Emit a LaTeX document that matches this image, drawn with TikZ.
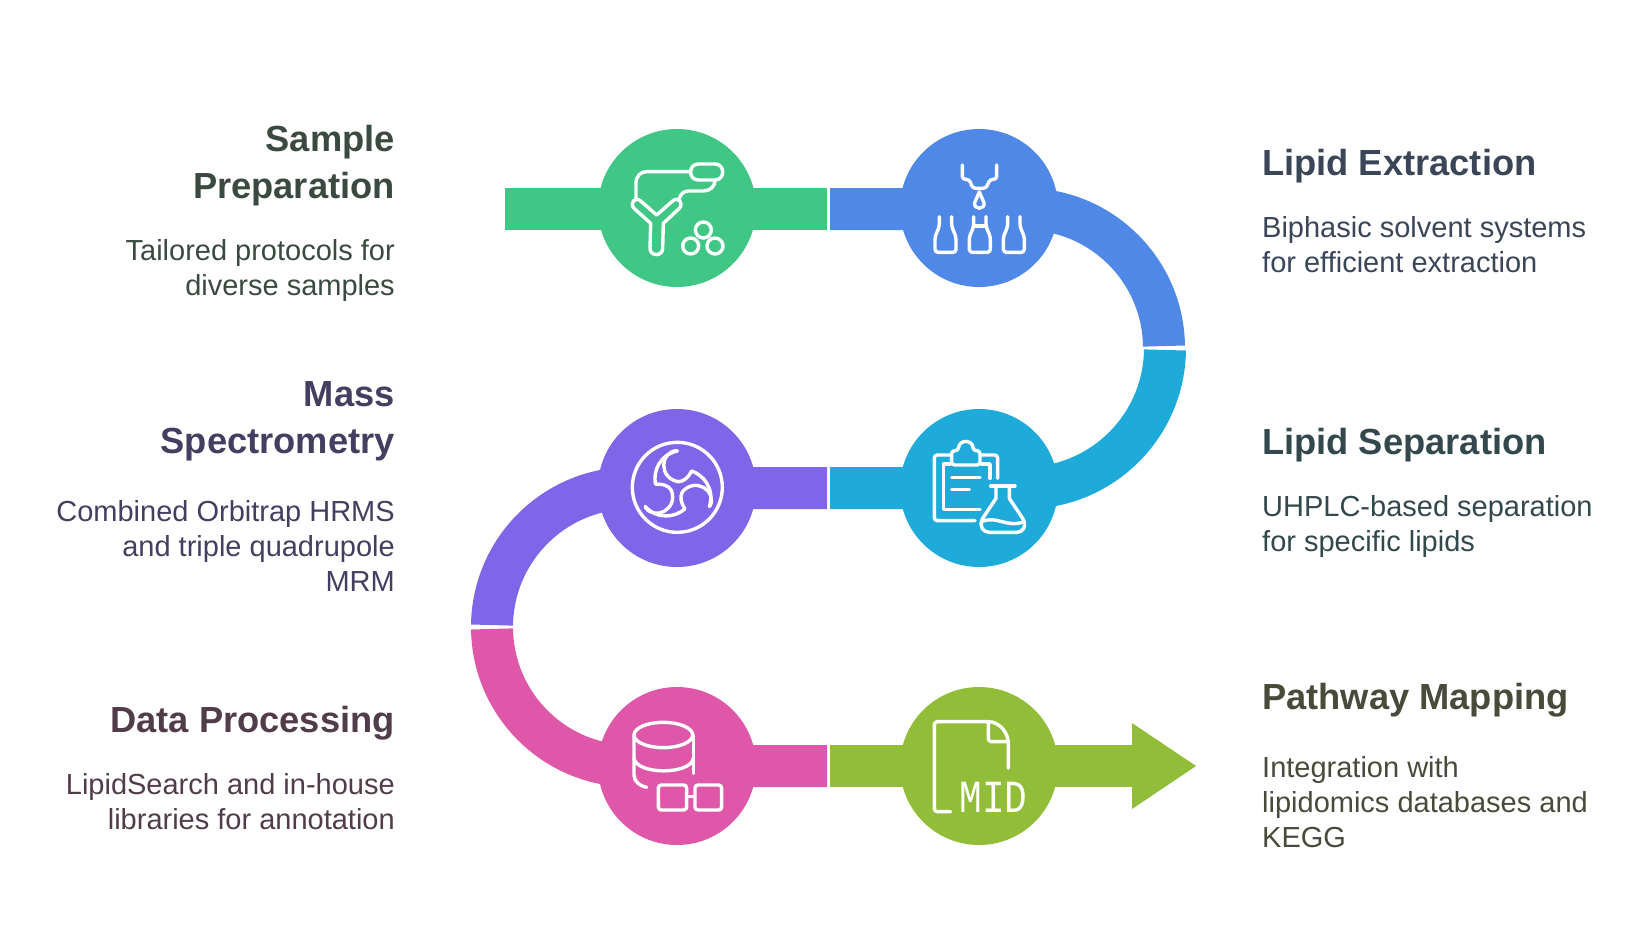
\documentclass[tikz,border=0pt]{standalone}
\usepackage{fontspec}
\setmainfont{Liberation Sans}
\newfontfamily\iconmono{Liberation Mono}
\usetikzlibrary{positioning}
\definecolor{prepgreen}{HTML}{40C785}
\definecolor{extblue}{HTML}{4F88E6}
\definecolor{sepcyan}{HTML}{1EABDA}
\definecolor{masspurple}{HTML}{7F65E8}
\definecolor{datapink}{HTML}{DF57A9}
\definecolor{pathgreen}{HTML}{92BD39}
\definecolor{preptext}{HTML}{3A4A40}
\definecolor{exttext}{HTML}{3A4658}
\definecolor{septext}{HTML}{33484D}
\definecolor{masstext}{HTML}{443E60}
\definecolor{datatext}{HTML}{513C4A}
\definecolor{pathtext}{HTML}{474B39}
\tikzset{
	stepnode/.style = {circle, minimum size=158pt, inner sep=0pt},
	ribbon/.style = {line width=42pt, line cap=butt},
	icon/.style = {draw=white, line width=3.4pt, line cap=round, line join=round},
	title/.style = {inner sep=0pt, font=\fontsize{36.3}{46.5}\selectfont\bfseries},
	titleright/.style = {title, anchor=base west, align=left},
	titleleft/.style = {title, anchor=base east, align=right},
	desc/.style = {inner sep=0pt, font=\fontsize{29}{35}\selectfont},
	descright/.style = {desc, anchor=base west, align=left},
	descleft/.style = {desc, anchor=base east, align=right}
}
\begin{document}
\begin{tikzpicture}[x=1pt, y=-1pt]
	\useasboundingbox (0,0) rectangle (1649,929);

	% Define the step circles
	\node (prep) [stepnode, fill=prepgreen] at (677,208) {};
	\node (ext) [stepnode, fill=extblue] at (979,208) {};
	\node (sep) [stepnode, fill=sepcyan] at (979,488) {};
	\node (mass) [stepnode, fill=masspurple] at (677,488) {};
	\node (data) [stepnode, fill=datapink] at (677,766) {};
	\node (path) [stepnode, fill=pathgreen] at (979,766) {};

	% Define the ribbon's free ends
	\coordinate (prepstart) at (505,209);
	\coordinate (prepend) at (827,209);
	\coordinate (extstart) at (830,209);
	\coordinate (sepstart) at (830,488);
	\coordinate (massstart) at (827,488);
	\coordinate (datastart) at (827,766);
	\coordinate (pathstart) at (830,766);
	\coordinate (headbase) at (1133,766);
	\coordinate (headtop) at (1132,723);
	\coordinate (headtip) at (1196,766);
	\coordinate (headbottom) at (1132,809);

	% Define the ribbon
	\draw [ribbon, prepgreen] (prepstart) -- (prepend);
	\draw [ribbon, extblue] (extstart) -- (1025,209) arc [start angle=90, end angle=0.8, radius=139pt];
	\draw [ribbon, sepcyan] (sepstart) -- (1025,488) arc [start angle=-90, end angle=-0.8, radius=140pt];
	\draw [ribbon, masspurple] (massstart) -- (631,488) arc [start angle=90, end angle=179.2, radius=139pt];
	\draw [ribbon, datapink] (datastart) -- (631,766) arc [start angle=-90, end angle=-179.2, radius=139pt];
	\draw [ribbon, pathgreen] (pathstart) -- (headbase);
	\fill [pathgreen] (headtop) -- (headtip) -- (headbottom) -- cycle;

	% Define the icons
	\begin{scope}[shift={(600,120)}, scale=1/3]
		\draw [icon] (152,310) -- (102,265) .. controls (88,250) and (105,228) .. (122,243) -- (170,285) -- (218,243) .. controls (235,228) and (252,250) .. (238,265) -- (190,310) -- (188,385) .. controls (188,410) and (150,410) .. (150,385) -- cycle;
		\draw [icon] (108,238) -- (108,190) .. controls (108,168) and (122,155) .. (140,155) -- (272,155);
		\draw [icon, rounded corners=7.5pt] (272,132) rectangle (368,180);
		\draw [icon] (345,180) .. controls (345,200) and (330,213) .. (310,213) -- (265,213) .. controls (252,213) and (242,222) .. (238,235);
		\draw [icon] (310,330) circle [radius=24pt] (272,378) circle [radius=24pt] (345,378) circle [radius=24pt];
	\end{scope}
	\begin{scope}[shift={(900,120)}, scale=1/3]
		\draw [icon, rounded corners=3pt] (187,135) -- (187,178) -- (208,178) -- (218,205) -- (258,205) -- (270,178) -- (290,178) -- (290,135);
		\draw [icon] (238,216) -- (224,248) .. controls (220,270) and (256,270) .. (252,248) -- cycle;
		\foreach \dx in {0,103,205} {
			\draw [icon, rounded corners=3pt, shift={(\dx,0)}] (118,290) -- (118,320) -- (105,350) -- (105,397) -- (168,397) -- (168,350) -- (155,320) -- (155,290);
		}
		\draw [icon] (221,318) -- (258,318);
	\end{scope}
	\begin{scope}[shift={(600,400)}, scale=1/3]
		\draw [icon] (232,262) circle [radius=135pt];
		\foreach \ang in {0,120,240} {
			\draw [icon, rotate around={-\ang:(232,264)}] (230,152) .. controls (180,155) and (175,235) .. (235,245) .. controls (252,245) and (265,232) .. (275,213) .. controls (310,225) and (345,265) .. (328,320);
		}
	\end{scope}
	\begin{scope}[shift={(900,400)}, scale=1/3]
		\draw [icon, rounded corners=3pt] (225,362) -- (103,362) -- (103,165) -- (150,165);
		\draw [icon, rounded corners=3pt] (245,165) -- (293,165) -- (293,235);
		\draw [icon, rounded corners=3pt] (155,195) -- (155,152) -- (175,152) .. controls (178,118) and (217,118) .. (220,152) -- (240,152) -- (240,195) -- cycle;
		\draw [icon] (150,192) -- (130,192) -- (130,328) -- (240,328);
		\draw [icon] (245,192) -- (270,192) -- (270,235);
		\draw [icon] (155,233) -- (240,233);
		\draw [icon] (155,268) -- (208,268);
		\draw [icon] (272,258) -- (345,258);
		\draw [icon] (288,258) -- (288,295) -- (248,355) .. controls (235,380) and (250,397) .. (268,397) -- (350,397) .. controls (368,397) and (382,380) .. (368,355) -- (328,295) -- (328,258);
		\draw [icon] (245,365) .. controls (290,345) and (320,385) .. (372,365);
	\end{scope}
	\begin{scope}[shift={(600,680)}, scale=1/3]
		\draw [icon] (190,165) ellipse [x radius=88pt, y radius=38pt];
		\draw [icon] (102,165) -- (102,285) .. controls (102,305) and (120,318) .. (140,322);
		\draw [icon] (280,165) -- (280,280);
		\draw [icon] (102,235) .. controls (110,285) and (272,285) .. (280,235);
		\draw [icon, rounded corners=3pt] (175,315) rectangle (260,390);
		\draw [icon, rounded corners=3pt] (285,315) rectangle (365,390);
		\draw [icon] (260,350) -- (285,350);
	\end{scope}
	\begin{scope}[shift={(900,680)}, scale=1/3]
		\draw [icon, rounded corners=3pt] (265,125) -- (103,125) -- (103,395) -- (152,395);
		\draw [icon] (325,265) -- (325,190) .. controls (325,160) and (300,125) .. (265,125);
		\draw [icon, rounded corners=3pt] (265,125) -- (265,185) -- (325,185);
		\node (midlabel) [white, inner sep=0pt, anchor=base, xscale=0.82, font=\fontsize{46}{46}\iconmono\selectfont] at (280,397) {MID};
	\end{scope}

	% Define the labels
	\node (preptitle) [titleleft, text=preptext] at (395,198) {Sample\\Preparation};
	\node (prepdesc) [descleft, text=preptext] at (395,295.5) {Tailored protocols for\\diverse samples};
	\node (masstitle) [titleleft, text=masstext] at (395,453) {Mass\\Spectrometry};
	\node (massdesc) [descleft, text=masstext] at (395,591.5) {Combined Orbitrap HRMS\\and triple quadrupole\\MRM};
	\node (datatitle) [titleleft, text=datatext] at (395,732) {Data Processing};
	\node (datadesc) [descleft, text=datatext] at (395,829.7) {LipidSearch and in-house\\libraries for annotation};
	\node (exttitle) [titleright, text=exttext] at (1262,175) {Lipid Extraction};
	\node (extdesc) [descright, text=exttext] at (1262,272) {Biphasic solvent systems\\for efficient extraction};
	\node (septitle) [titleright, text=septext] at (1262,454) {Lipid Separation};
	\node (sepdesc) [descright, text=septext] at (1262,551) {UHPLC-based separation\\for specific lipids};
	\node (pathtitle) [titleright, text=pathtext] at (1262,709) {Pathway Mapping};
	\node (pathdesc) [descright, text=pathtext] at (1262,847) {Integration with\\lipidomics databases and\\KEGG};
\end{tikzpicture}
\end{document}
